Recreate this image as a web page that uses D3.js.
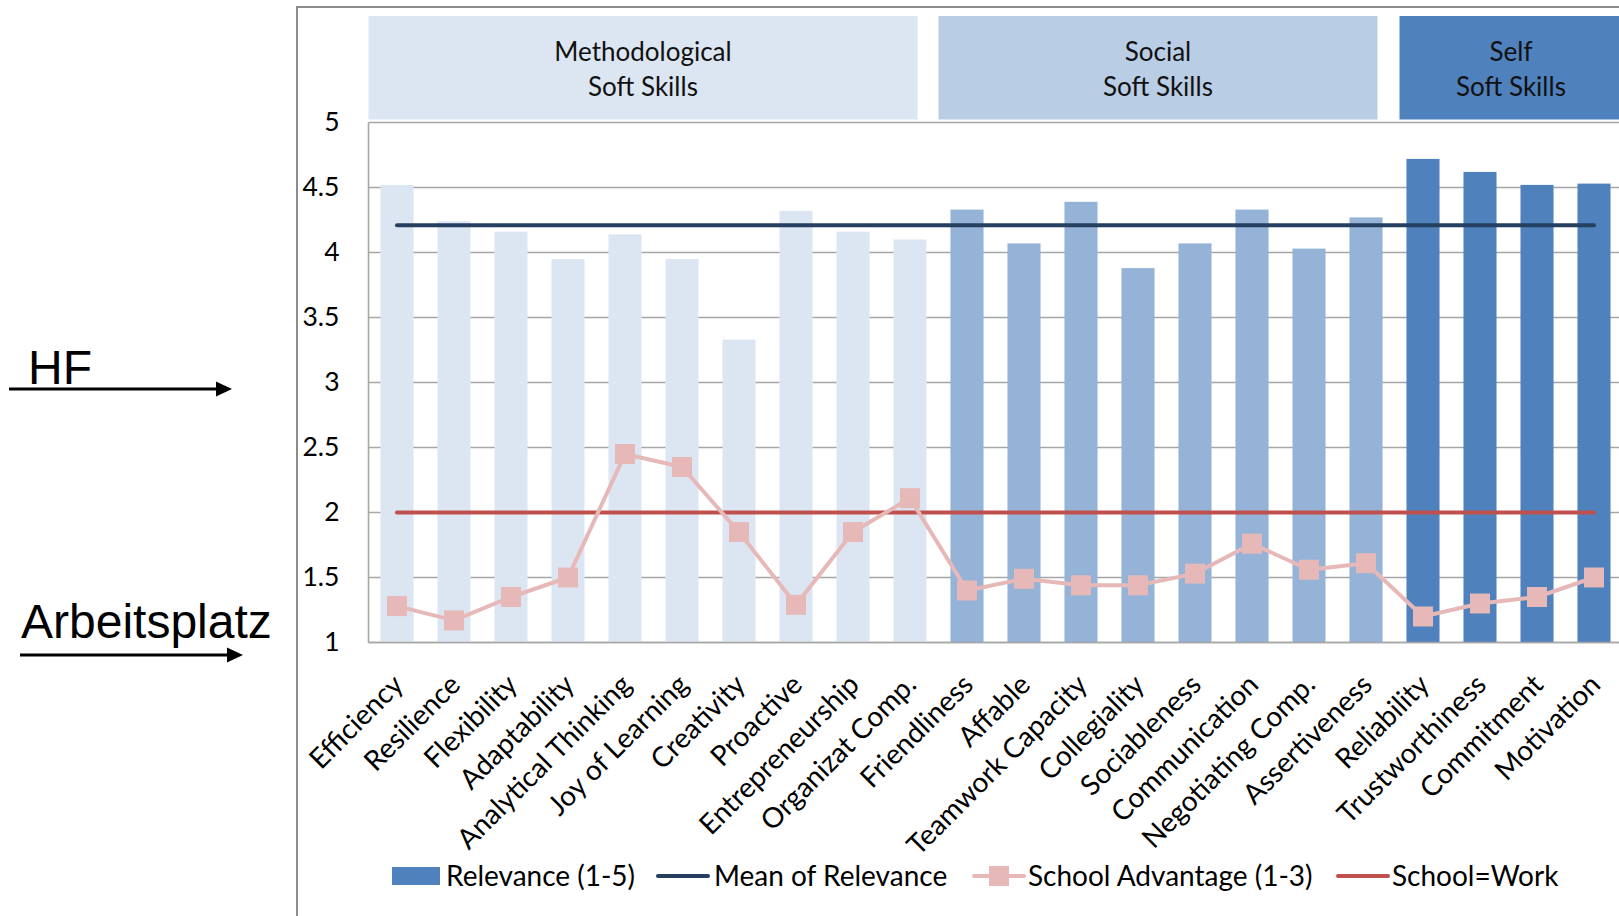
<!DOCTYPE html>
<html>
<head>
<meta charset="utf-8">
<script src="https://cdn.jsdelivr.net/npm/d3@7/dist/d3.min.js"></script>
<style>
  html, body { margin: 0; padding: 0; background: #fff; }
  svg { display: block; }
</style>
</head>
<body>
<svg id="chart" width="1619" height="916"></svg>
<script>
// Soft-skill categories, in axis order
const categories = [
  "Efficiency", "Resilience", "Flexibility", "Adaptability", "Analytical Thinking",
  "Joy of Learning", "Creativity", "Proactive", "Entrepreneurship", "Organizat Comp.",
  "Friendliness", "Affable", "Teamwork Capacity", "Collegiality", "Sociableness",
  "Communication", "Negotiating Comp.", "Assertiveness",
  "Reliability", "Trustworthiness", "Commitment", "Motivation"
];

// Relevance (1-5) per skill
const relevance = [
  4.52, 4.24, 4.16, 3.95, 4.14, 3.95, 3.33, 4.32, 4.16, 4.10,
  4.33, 4.07, 4.39, 3.88, 4.07, 4.33, 4.03, 4.27,
  4.72, 4.62, 4.52, 4.53
];

// School advantage (1-3) per skill
const schoolAdvantage = [
  1.28, 1.17, 1.35, 1.50, 2.45, 2.35, 1.85, 1.29, 1.85, 2.11,
  1.40, 1.49, 1.44, 1.44, 1.53, 1.76, 1.56, 1.61,
  1.20, 1.30, 1.35, 1.50
];

// Reference level where school equals work
const schoolEqualsWork = 2;

// Skill groups: header text and number of skills in each
const groupLabels = [["Methodological", "Soft Skills"], ["Social", "Soft Skills"], ["Self", "Soft Skills"]];
const groupCounts = [10, 8, 4];

const yTicks = [1, 1.5, 2, 2.5, 3, 3.5, 4, 4.5, 5];

const legendLabels = ["Relevance (1-5)", "Mean of Relevance", "School Advantage (1-3)", "School=Work"];

// ---- styling ----
const groupBarColors = ["#DCE6F2", "#95B3D7", "#4F81BD"];
const groupBoxColors = ["#DCE6F2", "#B9CDE5", "#4F81BD"];
const boxStartInset = [0, 0, 5];
const boxEndInset = [21, 17, 0];
const meanColor = "#243F60";
const workColor = "#C0504D";
const advColor = "#E6B9B8";
const gridColor = "#A6A6A6";
const font = "Lato, 'Open Sans', sans-serif";

const svg = d3.select("#chart");

const plot = { left: 368.5, right: 1622.5, top: 122.5, bottom: 642.5 };

const x = d3.scaleBand()
  .domain(categories)
  .range([plot.left, plot.right])
  .paddingInner(0.42)
  .paddingOuter(0.21);

const y = d3.scaleLinear().domain([1, 5]).range([plot.bottom, plot.top]);

const cx = c => x(c) + x.bandwidth() / 2;
const bandStart = c => x(c) - x.step() * x.paddingInner() / 2;

// group index for every skill
const groupIndex = [];
groupCounts.forEach((n, g) => { for (let i = 0; i < n; i++) groupIndex.push(g); });

// outer chart frame
svg.append("path")
  .attr("d", "M297,916 V7 H1619")
  .attr("fill", "none")
  .attr("stroke", "#8C8C8C")
  .attr("stroke-width", 2);

// group header boxes
let start = 0;
groupCounts.forEach((n, g) => {
  const first = categories[start];
  const last = categories[start + n - 1];
  const x0 = bandStart(first) + boxStartInset[g];
  const x1 = g === groupCounts.length - 1 ? plot.right : bandStart(last) + x.step() - boxEndInset[g];
  const box = svg.append("g");
  box.append("rect")
    .attr("x", x0).attr("y", 16)
    .attr("width", x1 - x0).attr("height", 103.5)
    .attr("fill", groupBoxColors[g]);
  box.append("text")
    .attr("x", (x0 + x1) / 2)
    .attr("y", 61)
    .attr("text-anchor", "middle")
    .attr("font-family", font)
    .attr("font-size", 26)
    .attr("fill", "#111")
    .selectAll("tspan")
    .data(groupLabels[g])
    .join("tspan")
    .attr("x", (x0 + x1) / 2)
    .attr("dy", (d, i) => i === 0 ? 0 : 34.5)
    .text(d => d);
  start += n;
});

// horizontal gridlines
svg.append("g")
  .selectAll("line")
  .data(yTicks)
  .join("line")
  .attr("x1", plot.left).attr("x2", plot.right)
  .attr("y1", d => y(d)).attr("y2", d => y(d))
  .attr("stroke", gridColor)
  .attr("stroke-width", 1.6);

// left axis line
svg.append("line")
  .attr("x1", plot.left).attr("x2", plot.left)
  .attr("y1", plot.top).attr("y2", plot.bottom)
  .attr("stroke", gridColor)
  .attr("stroke-width", 1.6);

// y axis labels
const yAxis = d3.axisLeft(y).tickValues(yTicks).tickSize(0).tickPadding(29)
  .tickFormat(d3.format("~g"));
const yAxisG = svg.append("g")
  .attr("transform", `translate(${plot.left},0)`)
  .call(yAxis);
yAxisG.select(".domain").remove();
yAxisG.selectAll("text")
  .attr("font-family", font)
  .attr("font-size", 26.5)
  .attr("fill", "#000");

// relevance bars
svg.append("g")
  .selectAll("rect")
  .data(categories)
  .join("rect")
  .attr("x", d => x(d))
  .attr("width", x.bandwidth())
  .attr("y", (d, i) => y(relevance[i]))
  .attr("height", (d, i) => y(1) - y(relevance[i]))
  .attr("fill", (d, i) => groupBarColors[groupIndex[i]]);

// bottom axis line
svg.append("line")
  .attr("x1", plot.left).attr("x2", plot.right)
  .attr("y1", plot.bottom).attr("y2", plot.bottom)
  .attr("stroke", gridColor)
  .attr("stroke-width", 1.6);

// mean of relevance
const meanRelevance = d3.mean(relevance);
svg.append("line")
  .attr("x1", cx(categories[0])).attr("x2", cx(categories[categories.length - 1]))
  .attr("y1", y(meanRelevance)).attr("y2", y(meanRelevance))
  .attr("stroke", meanColor)
  .attr("stroke-width", 4)
  .attr("stroke-linecap", "round");

// school = work level
svg.append("line")
  .attr("x1", cx(categories[0])).attr("x2", cx(categories[categories.length - 1]))
  .attr("y1", y(schoolEqualsWork)).attr("y2", y(schoolEqualsWork))
  .attr("stroke", workColor)
  .attr("stroke-width", 4)
  .attr("stroke-linecap", "round");

// school advantage line with square markers
const advLine = d3.line()
  .x((d, i) => cx(categories[i]))
  .y(d => y(d));
svg.append("path")
  .datum(schoolAdvantage)
  .attr("d", advLine)
  .attr("fill", "none")
  .attr("stroke", advColor)
  .attr("stroke-width", 4)
  .attr("stroke-linejoin", "round");
svg.append("g")
  .selectAll("rect")
  .data(schoolAdvantage)
  .join("rect")
  .attr("x", (d, i) => cx(categories[i]) - 10)
  .attr("y", d => y(d) - 10)
  .attr("width", 20).attr("height", 20)
  .attr("fill", advColor);

// rotated category labels
svg.append("g")
  .selectAll("text")
  .data(categories)
  .join("text")
  .attr("transform", d => `translate(${cx(d) + 1},${plot.bottom + 37}) rotate(-45)`)
  .attr("text-anchor", "end")
  .attr("dy", "0.35em")
  .attr("font-family", font)
  .attr("font-size", 28)
  .attr("fill", "#000")
  .text(d => d);

// legend
const legend = svg.append("g").attr("font-family", font).attr("font-size", 28).attr("fill", "#000");
const ly = 876;
const legendItems = [
  { x: 392, kind: "rect", color: groupBarColors[2], tx: 446 },
  { x: 658, kind: "line", color: meanColor, tx: 714 },
  { x: 974, kind: "marker", color: advColor, tx: 1028 },
  { x: 1338, kind: "line", color: workColor, tx: 1392 }
];
legendItems.forEach((it, i) => {
  if (it.kind === "rect") {
    legend.append("rect").attr("x", it.x).attr("y", ly - 9).attr("width", 48).attr("height", 18).attr("fill", it.color);
  } else {
    legend.append("line").attr("x1", it.x).attr("x2", it.x + 50).attr("y1", ly).attr("y2", ly)
      .attr("stroke", it.color).attr("stroke-width", 4).attr("stroke-linecap", "round");
    if (it.kind === "marker") {
      legend.append("rect").attr("x", it.x + 15).attr("y", ly - 10).attr("width", 20).attr("height", 20).attr("fill", it.color);
    }
  }
  legend.append("text").attr("x", it.tx).attr("y", ly).attr("dy", "0.35em").text(legendLabels[i]);
});

// side annotations with arrows
const side = svg.append("g").attr("font-family", "'Liberation Sans', Arial, sans-serif").attr("fill", "#000");
function arrow(x0, x1, yy) {
  side.append("line").attr("x1", x0).attr("x2", x1 - 12).attr("y1", yy).attr("y2", yy)
    .attr("stroke", "#000").attr("stroke-width", 3);
  side.append("path").attr("d", `M${x1},${yy} L${x1 - 16},${yy - 7.5} L${x1 - 16},${yy + 7.5} Z`).attr("fill", "#000");
}
side.append("text").attr("x", 28).attr("y", 384).attr("font-size", 48).text("HF");
arrow(9, 232, 389);
side.append("text").attr("x", 21).attr("y", 638).attr("font-size", 48).text("Arbeitsplatz");
arrow(20, 243, 655);
</script>
</body>
</html>
